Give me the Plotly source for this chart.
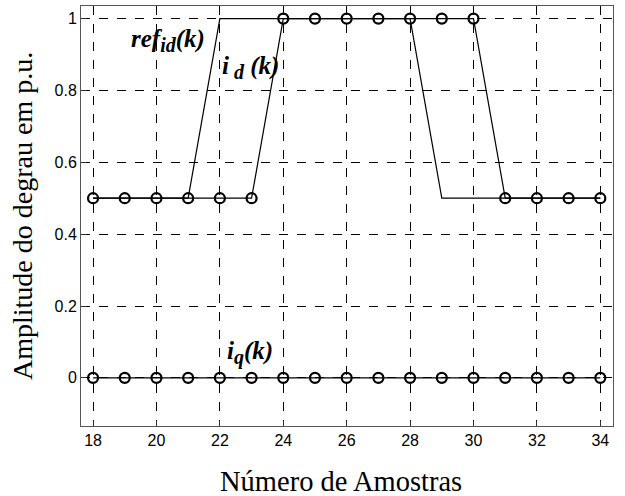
import plotly.graph_objects as go

# Data
k = list(range(18, 35))
ref_x = [18, 19, 20, 21, 22, 23, 24, 25, 26, 27, 28, 29, 30, 31, 32, 33, 34]
ref_id = [0.5, 0.5, 0.5, 0.5, 1, 1, 1, 1, 1, 1, 1, 0.5, 0.5, 0.5, 0.5, 0.5, 0.5]
i_d = [0.5, 0.5, 0.5, 0.5, 0.5, 0.5, 1, 1, 1, 1, 1, 1, 1, 0.5, 0.5, 0.5, 0.5]
i_q = [0] * 17
x_ticks = [18, 20, 22, 24, 26, 28, 30, 32, 34]
y_ticks = [0, 0.2, 0.4, 0.6, 0.8, 1]
y_tick_labels = ["0", "0.2", "0.4", "0.6", "0.8", "1"]

fig = go.Figure()
fig.add_trace(go.Scatter(x=ref_x, y=ref_id, mode="lines",
                         line=dict(color="black", width=1.2), showlegend=False))
fig.add_trace(go.Scatter(x=k, y=i_d, mode="lines+markers",
                         line=dict(color="black", width=1.2),
                         marker=dict(symbol="circle-open", size=10, color="black",
                                     line=dict(width=2.2, color="black")),
                         showlegend=False))
fig.add_trace(go.Scatter(x=k, y=i_q, mode="lines+markers",
                         line=dict(color="black", width=1.2),
                         marker=dict(symbol="circle-open", size=10, color="black",
                                     line=dict(width=2.2, color="black")),
                         showlegend=False))

tfont = dict(family="Liberation Serif", size=25, color="black")
sub = '<span style="font-size:20px">{}</span>'
fig.add_annotation(x=20.37, y=0.94, text="<b><i>ref<sub>" + sub.format("id") + "</sub>(k)</i></b>",
                   showarrow=False, font=tfont)
fig.add_annotation(x=22.96, y=0.865, text="<b><i>i<sub>" + sub.format(" d") + "</sub> (k)</i></b>",
                   showarrow=False, font=tfont)
fig.add_annotation(x=22.96, y=0.07, text="<b><i>i<sub>" + sub.format("q") + "</sub>(k)</i></b>",
                   showarrow=False, font=tfont)

# Axis titles
fig.add_annotation(xref="paper", yref="paper", x=0.489, y=0, yanchor="middle",
                   yshift=-55.5, text="Número de Amostras", showarrow=False,
                   font=dict(family="Liberation Serif", size=28.5, color="black"))
fig.add_annotation(xref="paper", yref="paper", x=0, y=0.5, xanchor="center",
                   xshift=-59, text="Amplitude do degrau em p.u.", showarrow=False,
                   textangle=-90,
                   font=dict(family="Liberation Serif", size=28, color="black"))

axis_common = dict(
    showgrid=True, gridcolor="black", gridwidth=1, griddash="dash",
    zeroline=False, showline=True, linecolor="#555", linewidth=1, mirror=True,
    ticks="inside", ticklen=5, tickcolor="#333", automargin=False,
    tickfont=dict(family="Liberation Sans", size=16, color="black"),
)

fig.update_xaxes(range=[17.62, 34.4], tickvals=x_ticks, **axis_common)
fig.update_yaxes(range=[-0.134, 1.035], tickvals=y_ticks, ticktext=y_tick_labels,
                 **axis_common)

fig.update_layout(width=625, height=496,
                  margin=dict(l=81, r=12, t=6, b=69.5),
                  plot_bgcolor="white", paper_bgcolor="white")

fig.write_html("out.html", config={"displayModeBar": False},
               post_script="document.body.style.margin='0';document.body.style.overflow='hidden';")
